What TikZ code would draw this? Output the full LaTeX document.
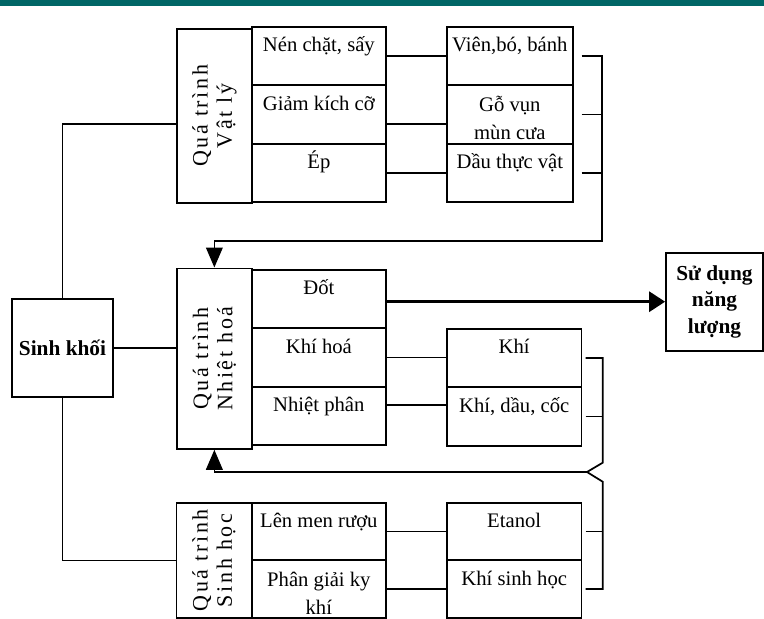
\documentclass[tikz,border=0pt]{standalone}
\usepackage{fontspec}
\setmainfont{Liberation Serif}
\newfontfamily\sidefont[LetterSpace=12]{Liberation Serif}
\usetikzlibrary{arrows.meta}

\tikzset{
  cell/.style={draw, line width=1.3pt, anchor=north west, inner sep=0pt,
    minimum width=100.5pt, minimum height=43.8pt, align=center,
    text height=18.75pt, text depth=25.05pt, font=\fontsize{15.5}{21}\selectfont},
  cellb/.style={cell, minimum height=43.1pt, text depth=24.35pt},
  twolines/.style={text height=40.4pt, text depth=#1},
  side/.style={draw, line width=1.3pt, anchor=north west, inner sep=0pt, minimum width=56.25pt},
  sidetext/.style={rotate=90, align=center, inner sep=0pt, font=\sidefont\fontsize{16.5}{18.2}\selectfont},
  bigbox/.style={draw, line width=1.3pt, inner sep=0pt, align=center, font=\bfseries\fontsize{16}{20}\selectfont},
  link/.style={line width=1.3pt},
  arr/.style={link, -{Triangle[length=15pt,width=12.5pt]}},
  thickarr/.style={line width=2.25pt, -{Triangle[length=12pt,width=15pt]}}
}

\begin{document}
\begin{tikzpicture}[x=0.75pt,y=0.75pt,yscale=-1,xscale=1]
\useasboundingbox (0,0) rectangle (764,618);

%Shape: top band
\fill [fill={rgb, 255:red, 0; green, 102; blue, 102 }] (0,0) rectangle (764,6);

% Sinh khoi and output
\node [bigbox, minimum width=75.75pt, minimum height=73.5pt] (sk) at (62.5,348) {Sinh khối};
\node [bigbox, minimum width=72.75pt, minimum height=73.5pt] (sd) at (714.5,301.7) {Sử dụng\\năng\\lượng};

% Group: vat ly
\node [side, minimum height=130.5pt] (vl) at (176,28) {};
\node [sidetext] (vl-t) at (vl.center) {Quá trình\\Vật lý};
\node [cell] (nen) at (251,26) {Nén chặt, sấy};
\node [cell] (giam) at (251,84.4) {Giảm kích cỡ};
\node [cell] (ep) at (251,142.8) {Ép};
\node [cell, minimum width=94.5pt] (vien) at (446,26) {Viên,bó, bánh};
\node [cell, minimum width=94.5pt, twolines=3.4pt] (go) at (446,84.4) {Gỗ vụn\\mùn cưa};
\node [cell, minimum width=94.5pt] (dau) at (446,142.8) {Dầu thực vật};

% Group: nhiet hoa
\node [side, minimum height=135.4pt] (nh) at (176,267.5) {};
\node [sidetext] (nh-t) at (nh.center) {Quá trình\\Nhiệt hoá};
\node [cell] (dot) at (251,269) {Đốt};
\node [cell] (khoa) at (251,327.4) {Khí hoá};
\node [cell] (nhp) at (251,385.8) {Nhiệt phân};
\node [cell, minimum width=101pt] (khi) at (446,328) {Khí};
\node [cell, minimum width=101pt] (kdc) at (446,386.4) {Khí, dầu, cốc};

% Group: sinh hoc
\node [side, minimum height=86.25pt] (sh) at (175.5,502) {};
\node [sidetext] (sh-t) at (sh.center) {Quá trình\\Sinh học};
\node [cellb] (lmr) at (251,502) {Lên men rượu};
\node [cellb, twolines=2.7pt] (pgk) at (251,559.5) {Phân giải ky\\khí};
\node [cellb, minimum width=101pt] (eta) at (446,502) {Etanol};
\node [cellb, minimum width=101pt] (ksh) at (446,559.5) {Khí sinh học};

% bus points
\coordinate (bt) at (602,240.7);
\coordinate (b2a) at (602.7,462.7);
\coordinate (hook) at (587,472);
\coordinate (b2b) at (602.7,481.7);

% from Sinh khoi
\draw [link] (sk.north) |- (vl.192);
\draw [link] (sk.east) -- (sk.east -| nh.west);
\draw [link] (sk.south) |- (sh.west);

% vat ly links
\draw [link] (nen.east) -- (nen.east -| vien.west);
\draw [link] (giam.-8) -- (giam.-8 -| go.west);
\draw [link] (ep.east) -- (ep.east -| dau.west);
\draw [arr] ([xshift=6pt]vien.east) -| (bt) -| (nh.north);
\draw [link] ([xshift=6pt]go.east) -- (go.east -| bt);
\draw [link] ([xshift=6pt]dau.east) -- (dau.east -| bt);

% nhiet hoa links
\draw [thickarr] (sd.west -| dot.east) -- (sd.west);
\draw [link] (khoa.east) -- (khoa.east -| khi.west);
\draw [link] (nhp.9) -- (nhp.9 -| kdc.west);
\draw [link] ([xshift=2.5pt]khi.east) -| (b2a) -- (hook) -- (b2b) |- ([xshift=2.5pt]ksh.east);
\draw [link] ([xshift=2.5pt]kdc.east) -- (kdc.east -| b2a);
\draw [link] ([xshift=2.5pt]eta.east) -- (eta.east -| b2a);
\draw [arr] (hook) -| (nh.south);

% sinh hoc links
\draw [link] (lmr.east) -- (lmr.east -| eta.west);
\draw [link] (pgk.east) -- (pgk.east -| ksh.west);

\end{tikzpicture}
\end{document}
